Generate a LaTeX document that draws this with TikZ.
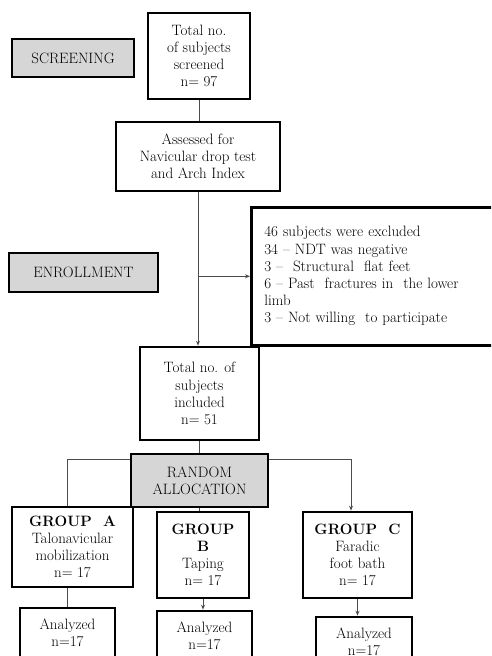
\documentclass[tikz,border=0pt]{standalone}
\usetikzlibrary{arrows.meta}
\begin{document}
\begin{tikzpicture}[x=1pt,y=-1pt]
\tikzset{
 box/.style={draw=black, line width=2.6pt, fill=white, align=center, inner sep=0pt, font=\fontsize{15}{17.2}\selectfont},
 graybox/.style={box, fill=black!16},
 conn/.style={draw=black!70, line width=0.9pt},
 arr/.style={conn, -{Stealth[length=5pt,width=4pt]}},
}
\useasboundingbox (0,0) rectangle (491,656);
\clip (0,0) rectangle (491,656);
\node[box, minimum width=102pt, minimum height=86pt] (scr) at (199,56) {Total no.\\of subjects\\screened\\n= 97};
\node[graybox, minimum width=122pt, minimum height=38pt] (screening) at (73,58) {SCREENING};
\node[box, minimum width=164pt, minimum height=69pt] (ass) at (198,156.5) {Assessed for\\Navicular drop test\\and Arch Index};
\node[box, anchor=north west, minimum height=138pt, text width=226pt, align=left, inner xsep=13pt] (exc) at (250,206)
 {46 subjects were excluded\\34 -- NDT was negative\\3 --\ \ Structural\ \ flat feet\\6 -- Past\ \ fractures in\ \ the lower\\limb\\3 -- Not willing\ \ to participate};
\node[graybox, minimum width=149pt, minimum height=39pt] (enr) at (83.5,272.5) {ENROLLMENT};
\node[box, minimum width=119pt, minimum height=93pt] (inc) at (199.5,393.5) {Total no. of\\subjects\\included\\n= 51};
\node[graybox, minimum width=137pt, minimum height=53pt] (rnd) at (199.5,480.5) {RANDOM\\ALLOCATION};
\node[box, minimum width=121pt, minimum height=80pt] (A) at (72.5,547) {\textbf{GROUP\ \ A}\\Talonavicular\\mobilization\\n= 17};
\node[box, minimum width=92pt, minimum height=86pt] (B) at (203,555) {\textbf{GROUP}\\\textbf{B}\\Taping\\n= 17};
\node[box, minimum width=109pt, minimum height=86pt] (C) at (357.5,555) {\textbf{GROUP\ \ C}\\Faradic\\foot bath\\n= 17};
\node[box, minimum width=95pt, minimum height=50pt] (anA) at (67.5,633) {Analyzed\\n=17};
\node[box, minimum width=95pt, minimum height=50pt] (anB) at (204.5,636) {Analyzed\\n=17};
\node[box, minimum width=96pt, minimum height=49pt] (anC) at (364,641.5) {Analyzed\\n=17};
% connectors
\draw[conn] (scr.south) -- (scr.south |- ass.north);
\draw[arr] (ass.south) -- (ass.south |- inc.north);
\coordinate (br) at (ass.south |- exc.west);
\draw[arr] (br) -- (exc.west);
\draw[conn] (inc.south) -- (inc.south |- rnd.north);
\draw[conn] ([yshift=-7pt]rnd.north west) -| ([xshift=-5.5pt]A.north);
\draw[arr] ([yshift=-7pt]rnd.north east) -| ([xshift=-6.5pt]C.north);
\draw[conn] (rnd.south) -- (rnd.south |- B.north);
\draw[conn] (anA.north |- A.south) -- (anA.north);
\draw[arr] (B.south) -- (B.south |- anB.north);
\draw[arr] (C.south) -- (C.south |- anC.north);
\end{tikzpicture}
\end{document}
